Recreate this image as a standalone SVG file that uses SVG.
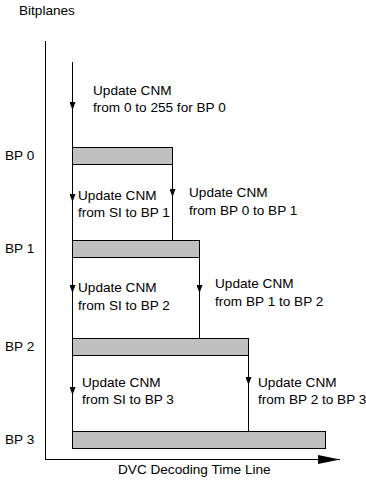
<svg xmlns="http://www.w3.org/2000/svg" width="366" height="481" viewBox="0 0 366 481">
  <style>
    text { font-family: "Liberation Sans", Arial, sans-serif; font-size: 13.6px; fill: #000; }
    .axis { stroke: #000; stroke-width: 1; fill: none; }
    .flow { stroke: #000; stroke-width: 1; fill: none; marker-mid: url(#tri); }
    .bar { fill: #c0c0c0; stroke: #000; stroke-width: 1; }
  </style>
  <defs>
    <marker id="tri" viewBox="0 0 8 6" refX="8" refY="3" markerWidth="8" markerHeight="6" markerUnits="userSpaceOnUse" orient="auto">
      <path d="M0,0 L8,3 L0,6 Z" fill="#000"/>
    </marker>
    <marker id="axisHead" viewBox="0 0 22 9" refX="22" refY="4.5" markerWidth="22" markerHeight="9" markerUnits="userSpaceOnUse" orient="auto">
      <path d="M0,0 L22,4.5 L0,9 Z" fill="#000"/>
    </marker>
  </defs>

  <!-- axes -->
  <g id="axes">
    <text x="19" y="15">Bitplanes</text>
    <line class="axis" x1="45.5" y1="41" x2="45.5" y2="459.5"/>
    <line class="axis" x1="45" y1="459.5" x2="340" y2="459.5" marker-end="url(#axisHead)"/>
    <text x="118" y="474">DVC Decoding Time Line</text>
  </g>

  <!-- update connectors -->
  <g id="connectors">
    <polyline class="flow" points="72.5,62 72.5,110 72.5,147"/>
    <polyline class="flow" points="72.5,164 72.5,202 72.5,240"/>
    <polyline class="flow" points="72.5,257 72.5,293 72.5,338"/>
    <polyline class="flow" points="72.5,355 72.5,395 72.5,431"/>
    <polyline class="flow" points="172.5,164 172.5,197 172.5,240"/>
    <polyline class="flow" points="199.5,257 199.5,293 199.5,338"/>
    <polyline class="flow" points="248.5,355 248.5,385 248.5,431"/>
  </g>

  <!-- bitplane bars -->
  <g id="bp0">
    <text x="5" y="160">BP 0</text>
    <rect class="bar" x="72.5" y="147.5" width="100" height="17"/>
  </g>
  <g id="bp1">
    <text x="5" y="253">BP 1</text>
    <rect class="bar" x="72.5" y="240.5" width="127" height="17"/>
  </g>
  <g id="bp2">
    <text x="5" y="351">BP 2</text>
    <rect class="bar" x="72.5" y="338.5" width="176" height="17"/>
  </g>
  <g id="bp3">
    <text x="5" y="444">BP 3</text>
    <rect class="bar" x="72.5" y="431.5" width="253" height="17"/>
  </g>

  <!-- update labels -->
  <g id="label-init">
    <text x="93" y="95">Update CNM</text>
    <text x="93" y="112">from 0 to 255 for BP 0</text>
  </g>
  <g id="label-si-bp1">
    <text x="78" y="200">Update CNM</text>
    <text x="78" y="217">from SI to BP 1</text>
  </g>
  <g id="label-bp0-bp1">
    <text x="189" y="197">Update CNM</text>
    <text x="189" y="215">from BP 0 to BP 1</text>
  </g>
  <g id="label-si-bp2">
    <text x="78" y="292">Update CNM</text>
    <text x="78" y="310">from SI to BP 2</text>
  </g>
  <g id="label-bp1-bp2">
    <text x="215" y="288">Update CNM</text>
    <text x="215" y="306">from BP 1 to BP 2</text>
  </g>
  <g id="label-si-bp3">
    <text x="82" y="387">Update CNM</text>
    <text x="82" y="404">from SI to BP 3</text>
  </g>
  <g id="label-bp2-bp3">
    <text x="258" y="387">Update CNM</text>
    <text x="258" y="404">from BP 2 to BP 3</text>
  </g>
</svg>
